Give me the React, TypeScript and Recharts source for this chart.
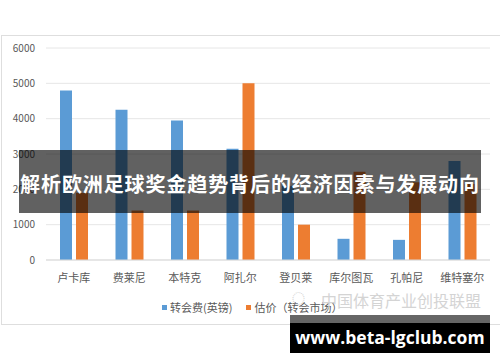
import { BarChart, Bar, XAxis, YAxis, CartesianGrid } from 'recharts';

// 球员
const players = ['卢卡库', '费莱尼', '本特克', '阿扎尔', '登贝莱', '库尔图瓦', '孔帕尼', '维特塞尔'];
// 转会费(英镑), 万
const transferFees = [4800, 4250, 3950, 3150, 2100, 600, 570, 2800];
// 估价（转会市场）
const marketValues = [1900, 1400, 1400, 5000, 1000, 2500, 2200, 2150];
const yTicks = [0, 1000, 2000, 3000, 4000, 5000, 6000];

const SERIES = [
    { key: 'fee', name: '转会费(英镑)', color: '#5B9BD5' },
    { key: 'value', name: '估价（转会市场）', color: '#ED7D31' },
];

const data = players.map((name, i) => ({
    name,
    fee: transferFees[i],
    value: marketValues[i],
}));

const FONT = '"Noto Sans CJK SC", "Noto Sans", sans-serif';

function LegendRow() {
    return (
        <div style={{ display: 'flex', gap: 14, fontSize: 11, color: '#595959', fontFamily: FONT }}>
            {SERIES.map((s) => (
                <span key={s.key} style={{ display: 'flex', alignItems: 'center' }}>
                    <span style={{ width: 5, height: 5, background: s.color, marginRight: 3, display: 'inline-block' }} />
                    {s.name}
                </span>
            ))}
        </div>
    );
}

export default function App() {
    return (
        <div style={{ position: 'absolute', left: 0, top: 0, width: 500, height: 362, overflow: 'hidden', background: '#fff', fontFamily: FONT }}>
            {/* chart frame */}
            <div style={{ position: 'absolute', left: 1, top: 35, width: 520, height: 288, border: '1px solid #dedede' }} />

            <div style={{ position: 'absolute', left: 0, top: 0 }}>
                <BarChart
                    width={500}
                    height={362}
                    data={data}
                    margin={{ top: 48, right: 10, left: 0, bottom: 72 }}
                    barSize={12}
                    barGap={4}
                >
                    <CartesianGrid vertical={false} stroke="#e6e6e6" />
                    <XAxis
                        dataKey="name"
                        height={30}
                        tickLine={false}
                        tickSize={0}
                        tickMargin={14}
                        axisLine={{ stroke: '#d9d9d9' }}
                        tick={{ fontSize: 11, fill: '#595959', fontFamily: FONT }}
                        interval={0}
                    />
                    <YAxis
                        width={46}
                        domain={[0, 6000]}
                        ticks={yTicks}
                        axisLine={false}
                        tickLine={false}
                        tickSize={0}
                        tickMargin={11}
                        tick={{ fontSize: 10, fill: '#595959', fontFamily: FONT }}
                    />
                    {SERIES.map((s) => (
                        <Bar key={s.key} dataKey={s.key} name={s.name} fill={s.color} isAnimationActive={false} />
                    ))}
                </BarChart>
            </div>

            <div style={{ position: 'absolute', left: 162, top: 299 }}>
                <LegendRow />
            </div>

            {/* watermark */}
            <div style={{ position: 'absolute', left: 292, top: 288, fontSize: 13, color: '#d4d4d4' }}>◌</div>
            <div style={{ position: 'absolute', left: 321, top: 288, fontSize: 16, color: '#d4d4d4', whiteSpace: 'nowrap' }}>
                中国体育产业创投联盟
            </div>

            {/* title banner */}
            <div
                style={{
                    position: 'absolute',
                    left: 19,
                    top: 150,
                    width: 462,
                    height: 63,
                    background: 'rgba(0,0,0,0.62)',
                    color: '#fff',
                    fontSize: 20,
                    fontWeight: 700,
                    display: 'flex',
                    alignItems: 'center',
                    justifyContent: 'center',
                    whiteSpace: 'nowrap',
                    letterSpacing: 0.9,
                }}
            >
                <span style={{ marginTop: 3 }}>解析欧洲足球奖金趋势背后的经济因素与发展动向</span>
            </div>

            {/* site banner */}
            <div style={{ position: 'absolute', left: 290, top: 315, width: 200, height: 8, background: 'rgba(0,0,0,0.6)' }} />
            <div
                style={{
                    position: 'absolute',
                    left: 290,
                    top: 323,
                    width: 200,
                    height: 30,
                    background: '#000',
                    color: '#fff',
                    fontSize: 17.5,
                    fontWeight: 700,
                    fontFamily: '"Open Sans", sans-serif',
                    display: 'flex',
                    alignItems: 'center',
                    justifyContent: 'center',
                    whiteSpace: 'nowrap',
                }}
            >
                <span style={{ marginTop: -3 }}>www.beta-lgclub.com</span>
            </div>
        </div>
    );
}
